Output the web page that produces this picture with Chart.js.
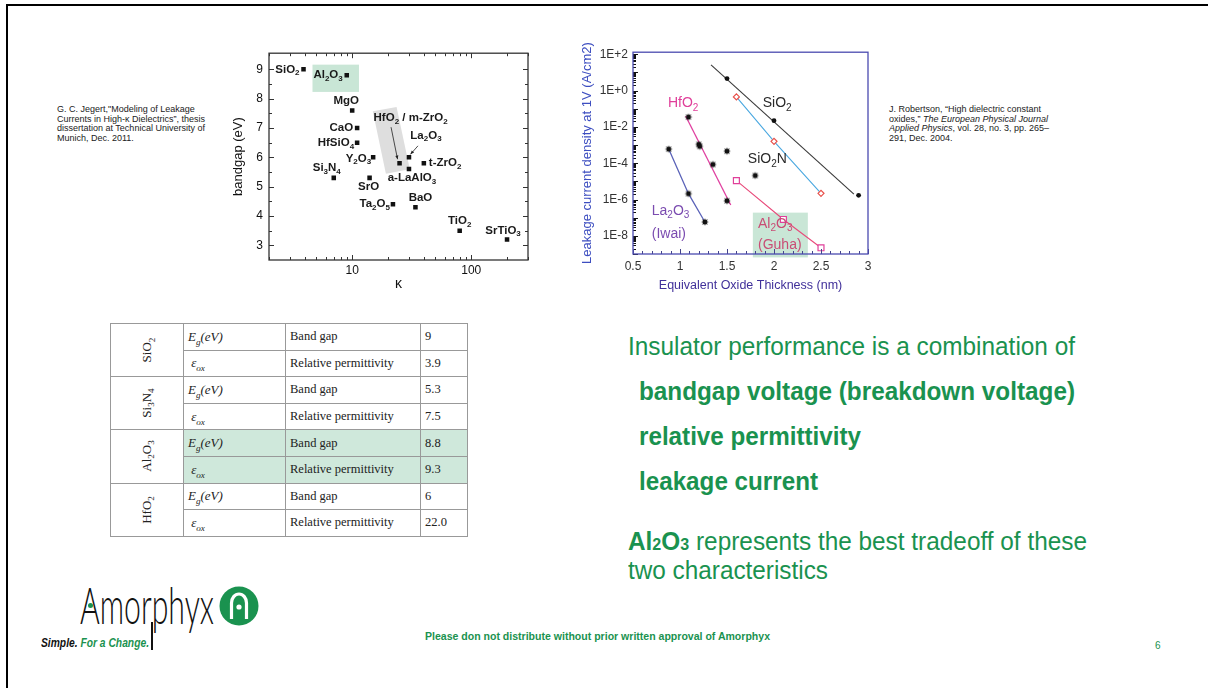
<!DOCTYPE html>
<html lang="en">
<head>
<meta charset="utf-8">
<title>Insulator performance</title>
<script src="https://cdn.jsdelivr.net/npm/chart.js@4.4.1/dist/chart.umd.min.js"></script>
<style>
  body { margin: 0; background: #fff; }
  #slide { position: relative; width: 1208px; height: 688px; overflow: hidden; background: #fff;
           font-family: "Liberation Sans", Arial, sans-serif; }
  .borde { position: absolute; left: 6px; top: 4px; width: 1220px; height: 700px;
           border-left: 2px solid #000; border-top: 2px solid #000; }
  .cita { position: absolute; font-size: 9px; line-height: 9.5px; color: #222; white-space: nowrap; }
  .lienzo { position: absolute; }
  .ajuste { position: absolute; white-space: nowrap; transform-origin: 0 0; }
  .msg { font-size: 25px; line-height: 25px; color: #1a924f;
         font-family: "Liberation Sans Narrow", "Liberation Sans", Arial, sans-serif; }
  .msg sub { font-size: 0.66em; vertical-align: baseline; }
  #tabla { position: absolute; left: 110px; top: 323px; border-collapse: collapse; table-layout: fixed;
           font-family: "Liberation Serif", "Times New Roman", serif; font-size: 12.5px; color: #222; }
  #tabla td { border: 1px solid #999; height: 25.6px; padding: 0 0 0 4px; white-space: nowrap; }
  #tabla { border: 1px solid #777; }
  #tabla td.mat { text-align: center; padding: 0; background: #fff; font-size: 13px; }
  #tabla td.mat span { display: inline-block; transform: rotate(-90deg); }
  #tabla sub { font-size: 70%; line-height: 0; }
  #tabla tr.res td:not(.mat) { background: #cfe8db; }
  #tabla i { font-size: 13px; }
</style>
</head>
<body>
<div id="slide">
  <div class="borde"></div>

  <div class="cita" style="left:57px; top:105px;">G. C. Jegert,"Modeling of Leakage<br>Currents in High-κ Dielectrics”, thesis<br>dissertation at Technical University of<br>Munich, Dec. 2011.</div>
  <div class="cita" style="left:889px; top:105px;">J. Robertson, “High dielectric constant<br>oxides,” <i>The European Physical Journal<br>Applied Physics</i>, vol. 28, no. 3, pp. 265–<br>291, Dec. 2004.</div>

  <canvas id="g1" class="lienzo" width="308" height="258" style="left:228px; top:40px; width:308px; height:258px;"></canvas>
  <canvas id="g2" class="lienzo" width="300" height="256" style="left:578px; top:40px; width:300px; height:256px;"></canvas>

  <table id="tabla">
    <colgroup><col style="width:73px"><col style="width:102px"><col style="width:135px"><col style="width:47px"></colgroup>
    <tbody></tbody>
  </table>

  <div class="ajuste msg" data-w="447" style="left:628px; top:334px;">Insulator performance is a combination of</div>
  <div class="ajuste msg" data-w="436" style="left:639px; top:379px; font-weight:bold;">bandgap voltage (breakdown voltage)</div>
  <div class="ajuste msg" data-w="222" style="left:639px; top:424px; font-weight:bold;">relative permittivity</div>
  <div class="ajuste msg" data-w="179" style="left:639px; top:469px; font-weight:bold;">leakage current</div>
  <div class="ajuste msg" data-w="459" style="left:628px; top:529px;"><b>Al<sub>2</sub>O<sub>3</sub></b> represents the best tradeoff of these</div>
  <div class="ajuste msg" data-w="200" style="left:628px; top:558px;">two characteristics</div>

  <!-- logo -->
  <div class="ajuste" data-w="134" data-sy="1.3" style="left:80px; top:578px; font-family:Lato, 'DejaVu Sans', sans-serif; font-weight:300; font-size:40px; line-height:40px; color:#111;">Amorphyx</div>
  <div style="position:absolute; left:88px; top:603px; width:5px; height:5px; border-radius:50%; background:#1a924f;"></div>
  <div style="position:absolute; left:151px; top:622px; width:1.5px; height:28px; background:#111;"></div>
  <svg style="position:absolute; left:219px; top:586px;" width="40" height="40" viewBox="0 0 40 40">
    <circle cx="20" cy="20" r="19.5" fill="#1a924f"/>
    <path d="M12.5 33 L12.5 17 A7.5 9 0 0 1 27.5 17 L27.5 33" fill="none" stroke="#fff" stroke-width="3.2"/>
    <circle cx="20" cy="21" r="2.6" fill="#fff"/>
  </svg>
  <div class="ajuste" data-w="108" style="left:41px; top:636px; font-family:'Liberation Sans Narrow','Liberation Sans',Arial,sans-serif; font-size:13px; line-height:13px; font-weight:bold; font-style:italic; color:#111;">Simple. <span style="color:#1a924f">For a Change.</span></div>

  <div class="ajuste" data-w="345" style="left:425px; top:632px; font-size:10px; line-height:10px; font-weight:bold; color:#1a924f;">Please don not distribute without prior written approval of Amorphyx</div>
  <div style="position:absolute; left:1155px; top:641px; font-size:10px; line-height:10px; color:#1a924f;">6</div>
</div>

<script>
// ---------------------------------------------------------------
// Datos: gráfico izquierdo, bandgap frente a constante dieléctrica
// ---------------------------------------------------------------
const materiales1 = ['SiO_2', 'Al_2O_3', 'MgO', 'CaO', 'HfSiO_4', 'Y_2O_3', 'Si_3N_4', 'SrO',
  'HfO_2 / m-ZrO_2', 'La_2O_3', 'a-LaAlO_3', 't-ZrO_2', 'Ta_2O_5', 'BaO', 'TiO_2', 'SrTiO_3'];
const kappa1 = [3.9, 9, 10, 11, 11, 15, 7, 14, 25, 30, 30, 40, 22, 34, 80, 200];
const bandgap1 = [9, 8.8, 7.6, 7.0, 6.5, 6.0, 5.3, 5.3, 5.8, 6.0, 5.6, 5.8, 4.4, 4.3, 3.5, 3.2];
const ejeX1 = [10, 100];
const ejeY1 = [3, 4, 5, 6, 7, 8, 9];

// ---------------------------------------------------------------
// Datos: gráfico derecho, corriente de fuga frente a EOT
// ---------------------------------------------------------------
const sio2EOT = [1.5, 2.0, 2.9];
const sio2J = [4.6, 0.022, 1.7e-6];
const sio2AjusteEOT = [1.33, 2.85];
const sio2AjusteJ = [26, 2.0e-6];
const sio2nEOT = [1.6, 2.0, 2.5];
const sio2nJ = [0.45, 1.6e-3, 2.2e-6];
const hfo2EOT = [1.09, 1.2, 1.21, 1.35, 1.5];
const hfo2J = [0.035, 1.1e-3, 8.5e-4, 8.5e-5, 8.5e-7];
const hfo2AjusteEOT = [1.06, 1.54];
const hfo2AjusteJ = [0.04, 5e-7];
const la2o3EOT = [0.88, 1.09, 1.265];
const la2o3J = [6e-4, 2.1e-6, 5.8e-8];
const al2o3EOT = [1.6, 2.1, 2.5];
const al2o3J = [1.1e-5, 8e-8, 2.2e-9];
const otrosEOT = [1.5, 1.8];
const otrosJ = [4.6e-4, 2.1e-5];
const ejeX2 = [0.5, 1, 1.5, 2, 2.5, 3];
const ejeY2 = [1e2, 1, 1e-2, 1e-4, 1e-6, 1e-8];

// ---------------------------------------------------------------
// Datos de la tabla
// ---------------------------------------------------------------
const tablaMaterial = ['SiO_2', 'Si_3N_4', 'Al_2O_3', 'HfO_2'];
const tablaBandgap = ['9', '5.3', '8.8', '6'];
const tablaPermitividad = ['3.9', '7.5', '9.3', '22.0'];
const tablaResaltada = 'Al_2O_3';

// Colocación de cada etiqueta del gráfico 1 respecto a su punto: [alineación, dx, dy]
const colocacion1 = [
  ['right', -4, 0], ['right', -4, 0], ['center', -6, -10], ['right', -4, 0],
  ['right', -3, 0], ['right', -2, 1], ['center', -7, -10], ['center', -1, 9],
  ['left', -26, -45], ['center', 17, -22], ['center', 3, 9], ['left', 5, 0],
  ['right', -3, 0], ['center', 5, -9], ['center', 0, -10], ['center', -4, -9]
];
// Flechas del gráfico 1 (índice de punto, origen y destino relativos al punto)
const flechas1 = [
  { i: 8, de: [-8.5, -36], a: [-2, -4] },
  { i: 9, de: [9, -11.5], a: [1.5, -3] }
];
// Zonas resaltadas (en coordenadas de datos)
const resalteAl2O3_1 = { x: [4.64, 11.4], y: [8.23, 9.16] };
const resalteHfO2_1 = [[14.9, 7.57], [23.6, 7.72], [30.5, 5.59], [19.2, 5.44]];
const resalteAl2O3_2 = { x: [1.775, 2.36], y: [1.9e-7, 6.5e-10] };
// Etiquetas del gráfico 2 (texto, posición en datos, color)
const etiquetas2 = [
  { t: 'SiO_2', x: 1.88, y: 0.2, c: '#2a2a2a' },
  { t: 'HfO_2', x: 0.872, y: 0.2, c: '#e0409a' },
  { t: 'SiO_2N', x: 1.722, y: 1.6e-4, c: '#2a2a2a' },
  { t: 'La_2O_3', x: 0.70, y: 2.4e-7, c: '#7b4cb0' },
  { t: '(Iwai)', x: 0.70, y: 1.3e-8, c: '#7b4cb0' },
  { t: 'Al_2O_3', x: 1.83, y: 4.4e-8, c: '#c94d75' },
  { t: '(Guha)', x: 1.83, y: 3.2e-9, c: '#c94d75' }
];

const FUENTE = '"Liberation Sans", Arial, sans-serif';
Chart.defaults.font.family = FUENTE;
Chart.defaults.animation = false;

// Texto con subíndices: "_x" baja el carácter x
function textoRico(ctx, s, x, y, align, size, weight, color) {
  const partes = [];
  let buf = '';
  for (let i = 0; i < s.length; i++) {
    if (s[i] === '_') { if (buf) partes.push([buf, 0]); buf = ''; partes.push([s[i + 1], 1]); i++; }
    else buf += s[i];
  }
  if (buf) partes.push([buf, 0]);
  const fN = `${weight} ${size}px ${FUENTE}`;
  const fS = `${weight} ${Math.round(size * 0.72)}px ${FUENTE}`;
  let w = 0;
  partes.forEach(p => { ctx.font = p[1] ? fS : fN; p.push(ctx.measureText(p[0]).width); w += p[2]; });
  let cx = align === 'right' ? x - w : align === 'center' ? x - w / 2 : x;
  ctx.fillStyle = color; ctx.textBaseline = 'middle'; ctx.textAlign = 'left';
  partes.forEach(p => {
    ctx.font = p[1] ? fS : fN;
    ctx.fillText(p[0], cx, y + (p[1] ? size * 0.32 : 0));
    cx += p[2];
  });
}

function raya(ctx, x1, y1, x2, y2) {
  ctx.beginPath(); ctx.moveTo(x1, y1); ctx.lineTo(x2, y2); ctx.stroke();
}

// Estrella negra para los marcadores
function hacerEstrella(r, color) {
  const c = document.createElement('canvas');
  const s = Math.ceil(r * 2 + 2);
  c.width = s; c.height = s;
  const g = c.getContext('2d');
  g.fillStyle = color; g.beginPath();
  for (let i = 0; i < 16; i++) {
    const a = i * Math.PI / 8, rr = i % 2 ? r * 0.55 : r;
    g.lineTo(s / 2 + rr * Math.cos(a), s / 2 + rr * Math.sin(a));
  }
  g.closePath(); g.fill();
  return c;
}
const estrella = hacerEstrella(3.8, '#111');

// ===================== Gráfico 1 =====================
new Chart(document.getElementById('g1'), {
  type: 'scatter',
  data: {
    datasets: [{
      data: kappa1.map((k, i) => ({ x: k, y: bandgap1[i] })),
      pointStyle: 'rect', radius: 3.2, backgroundColor: '#111', borderWidth: 0
    }]
  },
  options: {
    responsive: false, events: [],
    layout: { padding: { top: 6, right: 8, left: 0, bottom: 0 } },
    plugins: { legend: { display: false }, tooltip: { enabled: false } },
    scales: {
      x: {
        type: 'logarithmic', min: 2, max: 300,
        afterFit: s => { s.height = 38; },
        afterBuildTicks: s => { s.ticks = ejeX1.map(v => ({ value: v })); },
        grid: { display: false, drawTicks: false }, border: { display: false },
        ticks: { padding: 3, color: '#111', font: { family: FUENTE, size: 12 }, maxRotation: 0, autoSkip: false, callback: v => String(v) },
        title: { display: true, text: 'κ', color: '#111', font: { family: FUENTE, size: 14 }, padding: { top: 0, bottom: 5 } }
      },
      y: {
        min: 2.5, max: 9.55,
        afterFit: s => { s.width = 41; },
        afterBuildTicks: s => { s.ticks = ejeY1.map(v => ({ value: v })); },
        grid: { display: false, drawTicks: false }, border: { display: false },
        ticks: { padding: 6, color: '#111', font: { family: FUENTE, size: 12 }, callback: v => String(v) },
        title: { display: true, text: 'bandgap (eV)', color: '#111', font: { family: FUENTE, size: 13 }, padding: { top: 3, bottom: 0 } }
      }
    }
  },
  plugins: [{
    id: 'anotaciones1',
    beforeDatasetsDraw(chart) {
      const { ctx, scales: { x, y } } = chart;
      ctx.save();
      // caja verde del Al2O3
      const r = resalteAl2O3_1;
      const x1 = x.getPixelForValue(r.x[0]), x2 = x.getPixelForValue(r.x[1]);
      const y1 = y.getPixelForValue(r.y[1]), y2 = y.getPixelForValue(r.y[0]);
      ctx.fillStyle = '#c9e6d6';
      ctx.fillRect(x1, y1, x2 - x1, y2 - y1);
      // caja gris inclinada del HfO2
      ctx.fillStyle = '#dedede';
      ctx.beginPath();
      resalteHfO2_1.forEach(p => ctx.lineTo(x.getPixelForValue(p[0]), y.getPixelForValue(p[1])));
      ctx.closePath(); ctx.fill();
      ctx.restore();
    },
    afterDatasetsDraw(chart) {
      const { ctx, chartArea: a, scales: { x, y } } = chart;
      ctx.save();
      ctx.strokeStyle = '#333'; ctx.lineWidth = 1;
      // marcas hacia dentro en los cuatro lados
      for (let v = 3; v <= 9; v += 0.5) {
        const py = Math.round(y.getPixelForValue(v)) + 0.5;
        const L = Number.isInteger(v) ? 5 : 3;
        raya(ctx, a.left, py, a.left + L, py);
        raya(ctx, a.right, py, a.right - L, py);
      }
      for (let d = 1; d <= 100; d *= 10) {
        for (let k = 1; k <= 9; k++) {
          const v = k * d;
          if (v < 2 || v > 300) continue;
          const px = Math.round(x.getPixelForValue(v)) + 0.5;
          const L = k === 1 ? 5 : 3;
          raya(ctx, px, a.bottom, px, a.bottom - L);
          raya(ctx, px, a.top, px, a.top + L);
        }
      }
      ctx.lineWidth = 1.3;
      ctx.strokeRect(a.left, a.top, a.right - a.left, a.bottom - a.top);
      // etiquetas de materiales
      const pts = chart.getDatasetMeta(0).data;
      pts.forEach((p, i) => {
        const [al, dx, dy] = colocacion1[i];
        textoRico(ctx, materiales1[i], p.x + dx, p.y + dy, al, 11.5, 'bold', '#1a1a1a');
      });
      // flechas
      ctx.strokeStyle = '#222'; ctx.fillStyle = '#222'; ctx.lineWidth = 0.8;
      flechas1.forEach(f => {
        const p = pts[f.i];
        const x0 = p.x + f.de[0], y0 = p.y + f.de[1], x1 = p.x + f.a[0], y1 = p.y + f.a[1];
        raya(ctx, x0, y0, x1, y1);
        const ang = Math.atan2(y1 - y0, x1 - x0);
        ctx.beginPath();
        ctx.moveTo(x1, y1);
        ctx.lineTo(x1 - 4 * Math.cos(ang - 0.4), y1 - 4 * Math.sin(ang - 0.4));
        ctx.lineTo(x1 - 4 * Math.cos(ang + 0.4), y1 - 4 * Math.sin(ang + 0.4));
        ctx.closePath(); ctx.fill();
      });
      ctx.restore();
    }
  }]
});

// ===================== Gráfico 2 =====================
const pares = (xs, ys) => xs.map((v, i) => ({ x: v, y: ys[i] }));

new Chart(document.getElementById('g2'), {
  type: 'scatter',
  data: {
    datasets: [
      { label: 'otros', data: pares(otrosEOT, otrosJ), pointStyle: estrella },
      { label: 'HfO2 puntos', data: pares(hfo2EOT, hfo2J), pointStyle: estrella },
      { label: 'SiO2 puntos', data: pares(sio2EOT, sio2J), pointStyle: 'circle', radius: 2.4, backgroundColor: '#111', borderWidth: 0 },
      { label: 'SiO2N', data: pares(sio2nEOT, sio2nJ), showLine: true, borderColor: '#4aa8e0', borderWidth: 1.1,
        pointStyle: 'rectRot', radius: 3, pointBorderColor: '#e8504a', pointBackgroundColor: '#fff', pointBorderWidth: 1.2 },
      { label: 'La2O3', data: pares(la2o3EOT, la2o3J), showLine: true, borderColor: '#5b63b8', borderWidth: 1.3,
        pointStyle: estrella },
      { label: 'Al2O3', data: pares(al2o3EOT, al2o3J), showLine: true, borderColor: '#e84a7a', borderWidth: 1.1,
        pointStyle: 'rect', radius: 4.2, pointBorderColor: '#e0409a', pointBackgroundColor: '#fff', pointBorderWidth: 1.2 },
      { label: 'HfO2 ajuste', data: pares(hfo2AjusteEOT, hfo2AjusteJ), showLine: true, borderColor: '#e040a0', borderWidth: 1.3, radius: 0 },
      { label: 'SiO2 ajuste', data: pares(sio2AjusteEOT, sio2AjusteJ), showLine: true, borderColor: '#3a3a3a', borderWidth: 1.1, radius: 0 }
    ]
  },
  options: {
    responsive: false, events: [],
    layout: { padding: { top: 9, right: 10, left: 0, bottom: 0 } },
    plugins: { legend: { display: false }, tooltip: { enabled: false } },
    scales: {
      x: {
        min: 0.5, max: 3,
        afterFit: s => { s.height = 42; },
        afterBuildTicks: s => { s.ticks = ejeX2.map(v => ({ value: v })); },
        grid: { display: false, drawTicks: false }, border: { display: false },
        ticks: { padding: 5, color: '#333', font: { family: FUENTE, size: 12 }, maxRotation: 0, autoSkip: false, callback: v => String(v) },
        title: { display: true, text: 'Equivalent Oxide Thickness (nm)', color: '#40309a', font: { family: FUENTE, size: 12.5 }, padding: { top: 0, bottom: 3 } }
      },
      y: {
        type: 'logarithmic', min: 1e-9, max: 130,
        afterFit: s => { s.width = 55; },
        afterBuildTicks: s => { s.ticks = ejeY2.map(v => ({ value: v })); },
        grid: { display: false, drawTicks: false }, border: { display: false },
        ticks: {
          padding: 5, color: '#333', font: { family: FUENTE, size: 12 }, autoSkip: false,
          callback: v => { const e = Math.round(Math.log10(v)); return '1E' + (e >= 0 ? '+' : '-') + Math.abs(e); }
        },
        title: { display: true, text: 'Leakage current density at 1V (A/cm2)', color: '#3d4ec0', font: { family: FUENTE, size: 13 }, padding: { top: 2, bottom: 0 } }
      }
    }
  },
  plugins: [{
    id: 'anotaciones2',
    beforeDatasetsDraw(chart) {
      const { ctx, scales: { x, y } } = chart;
      const r = resalteAl2O3_2;
      const x1 = x.getPixelForValue(r.x[0]), x2 = x.getPixelForValue(r.x[1]);
      const y1 = y.getPixelForValue(r.y[0]), y2 = y.getPixelForValue(r.y[1]);
      ctx.save();
      ctx.fillStyle = '#c9e6d6';
      ctx.fillRect(x1, y1, x2 - x1, y2 - y1);
      ctx.restore();
    },
    afterDatasetsDraw(chart) {
      const { ctx, chartArea: a, scales: { x, y } } = chart;
      ctx.save();
      // marcas del eje y (décadas y subdivisiones)
      ctx.strokeStyle = '#111'; ctx.lineWidth = 1;
      for (let e = -9; e <= 2; e++) {
        for (let k = 1; k <= 9; k++) {
          const v = k * Math.pow(10, e);
          if (v < 1e-9 || v > 130) continue;
          const py = Math.round(y.getPixelForValue(v)) + 0.5;
          raya(ctx, a.left, py, a.left + (k === 1 ? 5 : 3), py);
        }
      }
      // marcas del eje x cada 0.1
      ctx.strokeStyle = '#44448a';
      for (let i = 5; i <= 30; i++) {
        const px = Math.round(x.getPixelForValue(i / 10)) + 0.5;
        raya(ctx, px, a.bottom, px, a.bottom - (i % 5 === 0 ? 5 : 3));
      }
      ctx.strokeStyle = '#4b4bb0'; ctx.lineWidth = 1.3;
      ctx.strokeRect(a.left, a.top, a.right - a.left, a.bottom - a.top);
      etiquetas2.forEach(t => {
        textoRico(ctx, t.t, x.getPixelForValue(t.x), y.getPixelForValue(t.y), 'left', 14, 'normal', t.c);
      });
      ctx.restore();
    }
  }]
});

// ===================== Tabla =====================
const conSub = s => s.replace(/_(.)/g, '<sub>$1</sub>');
const cuerpo = document.querySelector('#tabla tbody');
tablaMaterial.forEach((m, i) => {
  const cls = m === tablaResaltada ? ' class="res"' : '';
  cuerpo.insertAdjacentHTML('beforeend',
    `<tr${cls}><td rowspan="2" class="mat"><span>${conSub(m)}</span></td>` +
    `<td><i>E<sub>g</sub>(eV)</i></td><td>Band gap</td><td>${tablaBandgap[i]}</td></tr>` +
    `<tr${cls}><td>&nbsp;<i>&epsilon;<sub>ox</sub></i></td><td>Relative permittivity</td><td>${tablaPermitividad[i]}</td></tr>`);
});

// Ajuste de anchura de los textos (fuente estrecha)
document.querySelectorAll('.ajuste[data-w]').forEach(el => {
  const w = el.getBoundingClientRect().width;
  const sy = el.dataset.sy || 1;
  el.style.transform = `scale(${el.dataset.w / w}, ${sy})`;
});
</script>
</body>
</html>
